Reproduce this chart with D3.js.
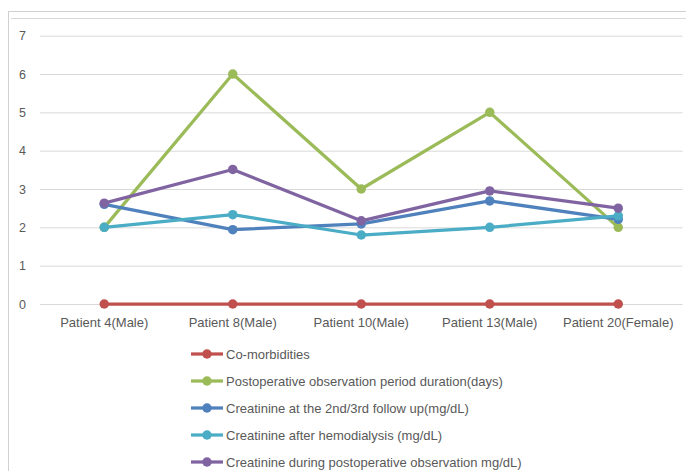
<!DOCTYPE html>
<html>
<head>
<meta charset="utf-8">
<script src="https://cdn.jsdelivr.net/npm/d3@7"></script>
<style>
  html, body { margin: 0; padding: 0; background: #fff; }
  svg { display: block; }
  text { font-family: "Liberation Sans", Arial, sans-serif; fill: #595959; }
</style>
</head>
<body>
<svg id="chart" width="686" height="471"></svg>
<script>
const categories = ["Patient 4(Male)", "Patient 8(Male)", "Patient 10(Male)", "Patient 13(Male)", "Patient 20(Female)"];
const seriesNames = [
  "Co-morbidities",
  "Postoperative observation period duration(days)",
  "Creatinine at the 2nd/3rd follow up(mg/dL)",
  "Creatinine after hemodialysis (mg/dL)",
  "Creatinine during postoperative observation mg/dL)"
];
const comorbidities = [0, 0, 0, 0, 0];
const observationDays = [2, 6, 3, 5, 2];
const creatinineFollowUp = [2.6, 1.94, 2.09, 2.69, 2.21];
const creatinineHemodialysis = [2.0, 2.33, 1.8, 2.0, 2.3];
const creatininePostop = [2.63, 3.51, 2.17, 2.95, 2.5];
const yTicks = [0, 1, 2, 3, 4, 5, 6, 7];
const colors = ["#C0504D", "#9BBB59", "#4F81BD", "#4BACC6", "#8064A2"];

const series = [comorbidities, observationDays, creatinineFollowUp, creatinineHemodialysis, creatininePostop]
  .map((values, i) => ({ name: seriesNames[i], values, color: colors[i] }));

const svg = d3.select("#chart");

// outer chart frame
svg.append("rect").attr("x", 8.5).attr("y", 11.5).attr("width", 700).attr("height", 470)
  .attr("fill", "none").attr("stroke", "#d0d0d0").attr("stroke-width", 1);
svg.append("line").attr("x1", 11).attr("x2", 686).attr("y1", 18.5).attr("y2", 18.5)
  .attr("stroke", "#d9d9d9").attr("stroke-width", 1);

const x = d3.scaleBand().domain(categories).range([40, 682.5]);
const y = d3.scaleLinear().domain([0, 7]).range([304, 35.7]);

// horizontal gridlines
const yAxis = svg.append("g").attr("transform", "translate(40,0)")
  .call(d3.axisLeft(y).tickValues(yTicks).tickSize(-642.5).tickPadding(14).tickFormat(d3.format("d")));
yAxis.select(".domain").remove();
yAxis.selectAll(".tick line").attr("stroke", "#d9d9d9").attr("stroke-width", 1);
yAxis.selectAll(".tick text").attr("font-size", 12.5).style("fill", "#595959");

// category labels
const xAxis = svg.append("g").attr("transform", "translate(0,304)")
  .call(d3.axisBottom(x).tickSize(0).tickPadding(14));
xAxis.select(".domain").remove();
xAxis.selectAll(".tick text").attr("font-size", 13).style("fill", "#595959");

const cx = c => x(c) + x.bandwidth() / 2;
const line = d3.line().x((d, i) => cx(categories[i])).y(d => y(d));

const g = svg.append("g");
series.forEach(s => {
  g.append("path").datum(s.values).attr("d", line)
    .attr("fill", "none").attr("stroke", s.color).attr("stroke-width", 3.25)
    .attr("stroke-linejoin", "round");
  g.selectAll(null).data(s.values).enter().append("circle")
    .attr("cx", (d, i) => cx(categories[i])).attr("cy", d => y(d))
    .attr("r", 4.75).attr("fill", s.color);
});

// legend
const legend = svg.append("g");
series.forEach((s, i) => {
  const ly = 354 + i * 27;
  legend.append("line").attr("x1", 191).attr("x2", 223).attr("y1", ly).attr("y2", ly)
    .attr("stroke", s.color).attr("stroke-width", 3.25);
  legend.append("circle").attr("cx", 207).attr("cy", ly).attr("r", 4.75).attr("fill", s.color);
  legend.append("text").attr("x", 226).attr("y", ly).attr("dy", "0.35em")
    .attr("font-size", 13).text(s.name);
});
</script>
</body>
</html>
